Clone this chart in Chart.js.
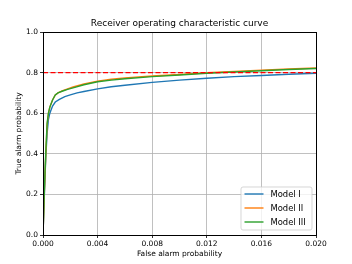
<!DOCTYPE html>
<html>
<head>
<meta charset="utf-8">
<script src="https://cdn.jsdelivr.net/npm/chart.js@4/dist/chart.umd.min.js"></script>
<style>
html,body{margin:0;padding:0;background:#fff;}
#c{display:block;}
</style>
</head>
<body>
<canvas id="c" width="352" height="264"></canvas>
<script>
// ---- data ----
const seriesNames = ["Model I", "Model II", "Model III"];
const fpr1 = [0, 0.0001, 0.0002, 0.0003, 0.0004, 0.0005, 0.0007, 0.0009, 0.0012, 0.0016, 0.002, 0.0025, 0.003, 0.004, 0.005, 0.006, 0.008, 0.010, 0.012, 0.014, 0.016, 0.018, 0.020];
const tpr1 = [0, 0.2, 0.38, 0.5, 0.57, 0.6, 0.635, 0.655, 0.668, 0.682, 0.69, 0.7, 0.707, 0.72, 0.73, 0.738, 0.752, 0.763, 0.772, 0.78, 0.786, 0.792, 0.797];
const fpr2 = [0, 0.0001, 0.0002, 0.0003, 0.0004, 0.0005, 0.0007, 0.0009, 0.0011, 0.0014, 0.0018, 0.0022, 0.003, 0.004, 0.005, 0.006, 0.008, 0.010, 0.012, 0.014, 0.016, 0.018, 0.020];
const tpr2 = [0, 0.21, 0.39, 0.54, 0.6, 0.63, 0.665, 0.69, 0.7, 0.71, 0.72, 0.729, 0.744, 0.758, 0.767, 0.774, 0.783, 0.791, 0.799, 0.806, 0.812, 0.818, 0.823];
const fpr3 = [0, 0.0001, 0.0002, 0.0003, 0.0004, 0.0005, 0.0007, 0.0009, 0.0011, 0.0014, 0.0018, 0.0022, 0.003, 0.004, 0.005, 0.006, 0.008, 0.010, 0.012, 0.014, 0.016, 0.018, 0.020];
const tpr3 = [0, 0.22, 0.4, 0.55, 0.6, 0.63, 0.665, 0.69, 0.7, 0.708, 0.717, 0.725, 0.74, 0.755, 0.763, 0.77, 0.78, 0.788, 0.797, 0.803, 0.809, 0.815, 0.82];
const thresholdX = [0, 0.02];
const thresholdY = [0.8, 0.8];
const xTicks = [0, 0.004, 0.008, 0.012, 0.016, 0.020];
const yTicks = [0, 0.2, 0.4, 0.6, 0.8, 1.0];
const titleText = "Receiver operating characteristic curve";
const xLabel = "False alarm probability";
const yLabel = "True alarm probability";

const colors = ["#1f77b4", "#ff7f0e", "#2ca02c"];
const FONT = "'DejaVu Sans', sans-serif";

function pts(xs, ys){ return xs.map((x,i)=>({x:x, y:ys[i]})); }

const datasets = [
  {label: seriesNames[0], data: pts(fpr1,tpr1), borderColor: colors[0], order: 3},
  {label: seriesNames[1], data: pts(fpr2,tpr2), borderColor: colors[1], order: 2},
  {label: seriesNames[2], data: pts(fpr3,tpr3), borderColor: colors[2], order: 1},
  {label: "threshold", data: pts(thresholdX,thresholdY), borderColor: "#ff0000", borderDash:[5,2.5], order: 0, isRef: true}
].map(d => Object.assign({borderWidth: 1.4, pointRadius: 0, fill: false, tension: 0, backgroundColor: d.borderColor}, d));

const framePlugin = {
  id: 'frame',
  afterDraw(chart){
    const ctx = chart.ctx, a = chart.chartArea;
    ctx.save();
    ctx.strokeStyle = '#000';
    ctx.lineWidth = 1;
    ctx.strokeRect(Math.round(a.left)+0.5, Math.round(a.top)+0.5, Math.round(a.right-a.left), Math.round(a.bottom-a.top));
    // legend box inside the plot area (lower right)
    const w = 71, h = 43;
    const x0 = a.right - 4 - w, y0 = a.bottom - 5 - h;
    ctx.globalAlpha = 0.8;
    ctx.fillStyle = '#fff';
    ctx.strokeStyle = '#cccccc';
    ctx.beginPath();
    const r = 2;
    ctx.moveTo(x0+r, y0); ctx.lineTo(x0+w-r, y0); ctx.arcTo(x0+w, y0, x0+w, y0+r, r);
    ctx.lineTo(x0+w, y0+h-r); ctx.arcTo(x0+w, y0+h, x0+w-r, y0+h, r);
    ctx.lineTo(x0+r, y0+h); ctx.arcTo(x0, y0+h, x0, y0+h-r, r);
    ctx.lineTo(x0, y0+r); ctx.arcTo(x0, y0, x0+r, y0, r);
    ctx.closePath(); ctx.fill(); ctx.stroke();
    ctx.globalAlpha = 1;
    ctx.font = "8.4px " + FONT;
    ctx.textBaseline = 'middle';
    ctx.textAlign = 'left';
    chart.data.datasets.filter(d=>!d.isRef).forEach((d,i)=>{
      const yy = y0 + 7 + i*14;
      ctx.strokeStyle = d.borderColor;
      ctx.lineWidth = 1.4;
      ctx.beginPath(); ctx.moveTo(x0+3.5, yy); ctx.lineTo(x0+22.5, yy); ctx.stroke();
      ctx.fillStyle = '#000';
      ctx.fillText(d.label, x0+29.5, yy+0.5);
    });
    ctx.restore();
  }
};

new Chart(document.getElementById('c'), {
  type: 'line',
  data: {datasets: datasets},
  plugins: [framePlugin],
  options: {
    responsive: false,
    animation: false,
    events: [],
    layout: {padding: {left: 0, right: 36, top: 0, bottom: 0}},
    plugins: {
      legend: {display: false},
      tooltip: {enabled: false},
      title: {display: true, fullSize: false, text: titleText, color: '#000', font: {family: FONT, size: 9, weight: 'normal'}, padding: {top: 18.6, bottom: 2.6}}
    },
    scales: {
      x: {
        type: 'linear', min: 0, max: 0.02,
        afterBuildTicks(s){ s.ticks = xTicks.map(v=>({value:v})); },
        afterFit(s){ s.height = 29; },
        ticks: {color: '#000', font: {family: FONT, size: 7.5}, padding: 1.5, maxRotation: 0,
          callback: v => v.toFixed(3)},
        grid: {color: '#b0b0b0', lineWidth: 0.8, tickColor: '#000', tickLength: 3, drawTicks: true},
        border: {display: true, color: '#000', width: 1},
        title: {display: true, text: xLabel, color: '#000', font: {family: FONT, size: 7.5}, padding: 5.5}
      },
      y: {
        type: 'linear', min: 0, max: 1,
        afterBuildTicks(s){ s.ticks = yTicks.map(v=>({value:v})); },
        afterFit(s){ s.width = 43; },
        ticks: {color: '#000', font: {family: FONT, size: 7.5}, padding: 2,
          callback: v => v.toFixed(1)},
        grid: {color: '#b0b0b0', lineWidth: 0.8, tickColor: '#000', tickLength: 3, drawTicks: true},
        border: {display: true, color: '#000', width: 1},
        title: {display: true, text: yLabel, color: '#000', font: {family: FONT, size: 7.5}, padding: 14.5}
      }
    }
  }
});
</script>
</body>
</html>
